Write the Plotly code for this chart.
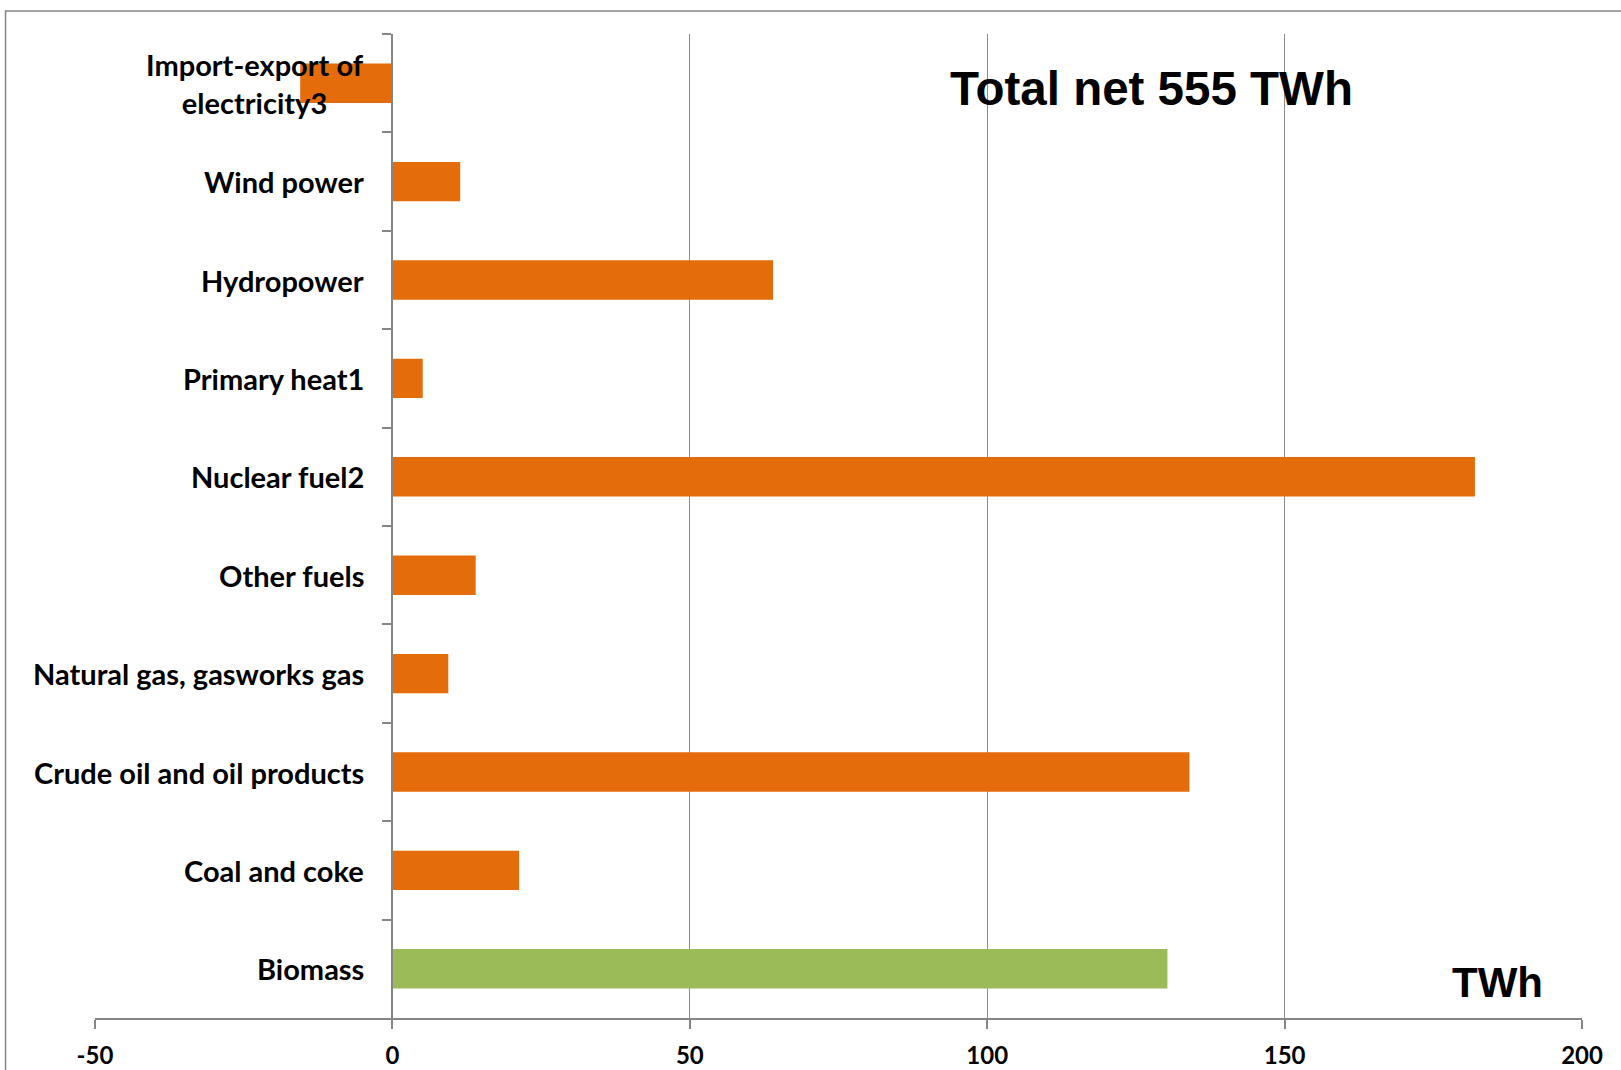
import plotly.graph_objects as go

# Data (top to bottom as in the chart)
categories = [
    "Import-export of<br>electricity3",
    "Wind power",
    "Hydropower",
    "Primary heat1",
    "Nuclear fuel2",
    "Other fuels",
    "Natural gas, gasworks gas",
    "Crude oil and oil products",
    "Coal and coke",
    "Biomass",
]
values = [-15.5, 11.4, 64, 5.1, 182, 14, 9.4, 134, 21.3, 130.3]
renewable_category = "Biomass"
x_tick_values = [-50, 0, 50, 100, 150, 200]
x_tick_labels = ["-50", "0", "50", "100", "150", "200"]
title_text = "Total net 555 TWh"
unit_text = "TWh"

ORANGE = "#E46C0A"
GREEN = "#9BBB59"
GRID = "#8C8C8C"
AXIS = "#868686"
LABEL_FONT = "Lato, 'Open Sans', sans-serif"

W, H = 1621, 1070
L, R, T, B = 94.5, 39, 34, 52
pw, ph = W - L - R, H - T - B

colors = [GREEN if c == renewable_category else ORANGE for c in categories]

fig = go.Figure()
fig.add_trace(go.Bar(
    y=categories, x=values, orientation="h",
    marker=dict(color=colors, line=dict(width=0)),
    width=0.4, showlegend=False, hoverinfo="x+y",
))

zero_frac = (0 - x_tick_values[0]) / (x_tick_values[-1] - x_tick_values[0])

fig.update_layout(
    width=W, height=H,
    margin=dict(l=L, r=R, t=T, b=B, autoexpand=False),
    paper_bgcolor="white", plot_bgcolor="white",
    xaxis=dict(
        range=[x_tick_values[0], x_tick_values[-1]],
        tickvals=x_tick_values,
        ticktext=["<b>%s</b>" % t for t in x_tick_labels],
        showgrid=True, gridcolor=GRID, gridwidth=1,
        zeroline=False,
        showline=True, linecolor=AXIS, linewidth=2,
        ticks="outside", ticklen=9, tickcolor=AXIS, tickwidth=1.5,
        tickfont=dict(family=LABEL_FONT, size=24, color="black"),
        ticklabelstandoff=6,
        layer="above traces",
    ),
    yaxis=dict(
        type="category",
        categoryorder="array", categoryarray=categories,
        autorange="reversed",
        anchor="free", position=zero_frac,
        showline=True, linecolor=AXIS, linewidth=2,
        showgrid=False, zeroline=False,
        tickson="boundaries", ticks="outside", ticklen=9,
        tickcolor=AXIS, tickwidth=1.5,
        showticklabels=False,
    ),
    bargap=0.6,
)

# Category labels (left of the zero axis, centered lines)
for c in categories:
    fig.add_annotation(
        x=0, y=c, xref="x", yref="y",
        text="<b>%s</b>" % c, showarrow=False,
        xanchor="right", yanchor="middle", align="center",
        xshift=-26,
        font=dict(family=LABEL_FONT, size=29, color="black"),
    )

# Title and unit label
fig.add_annotation(
    x=(1151 - L) / pw, y=(H - B - 88) / ph, xref="paper", yref="paper",
    text="<b>%s</b>" % title_text, showarrow=False, xanchor="center", yanchor="middle",
    font=dict(family="Liberation Sans, Arial, sans-serif", size=47.5, color="black"),
)
fig.add_annotation(
    x=(1497 - L) / pw, y=(H - B - 982) / ph, xref="paper", yref="paper",
    text="<b>%s</b>" % unit_text, showarrow=False, xanchor="center", yanchor="middle",
    font=dict(family="Liberation Sans, Arial, sans-serif", size=42, color="black"),
)

# Outer chart frame (only top and left edges visible in the crop)
fig.add_shape(
    type="rect", xref="paper", yref="paper",
    x0=(5 - L) / pw, x1=(W + 20 - L) / pw,
    y0=(H - B - (H + 20)) / ph, y1=(H - B - 11) / ph,
    line=dict(color=AXIS, width=1.5), fillcolor="rgba(0,0,0,0)", layer="below",
)

fig.write_html("out.html")
